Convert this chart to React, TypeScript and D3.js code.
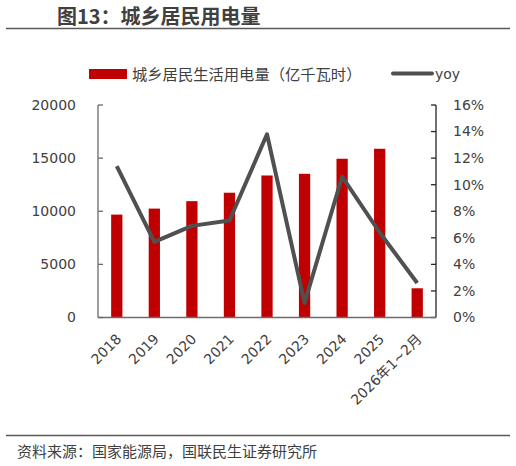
import * as d3 from 'd3';

const years = ['2018', '2019', '2020', '2021', '2022', '2023', '2024', '2025', '2026年1~2月'];
const usage = [9685, 10250, 10949, 11743, 13366, 13524, 14942, 15880, 2750];
const yoy = [11.4, 5.7, 6.9, 7.3, 13.8, 1.1, 10.6, 6.4, 2.6];
const leftTicks = [0, 5000, 10000, 15000, 20000];
const rightTicks = [0, 2, 4, 6, 8, 10, 12, 14, 16];

const W = 516;
const H = 466;
const plot = { left: 98, right: 436, top: 105, bottom: 317.5 };
const FONT = '"Noto Sans CJK SC", "Noto Sans", sans-serif';
const NUM_FONT = '"DejaVu Sans", "Noto Sans CJK SC", sans-serif';
const TEXT = '#404040';

export default function App() {
  const x = d3.scaleBand<string>().domain(years).range([plot.left, plot.right]).paddingInner(0.7).paddingOuter(0.35);
  const yL = d3.scaleLinear().domain([0, 20000]).range([plot.bottom, plot.top]);
  const yR = d3.scaleLinear().domain([0, 16]).range([plot.bottom, plot.top]);
  const cx = (d: string) => (x(d) ?? 0) + x.bandwidth() / 2;

  const line = d3.line<number>()
    .x((_, i) => cx(years[i]))
    .y(d => yR(d));

  return (
    <svg width={W} height={H} style={{ position: 'absolute', left: 0, top: 0, fontFamily: FONT }}>
      <rect width={W} height={H} fill="#fff" />
      <text x={57} y={24} fontSize={20} fontWeight="bold" fill={TEXT}>图13：城乡居民用电量</text>
      <line x1={6} x2={510} y1={28.5} y2={28.5} stroke="#595959" strokeWidth={1.5} />

      {/* legend */}
      <rect x={89} y={69} width={38} height={10} fill="#C00000" />
      <text x={132} y={79.5} fontSize={15.3} fill={TEXT}>城乡居民生活用电量（亿千瓦时）</text>
      <line x1={393} x2={432} y1={73.5} y2={73.5} stroke="#505050" strokeWidth={4} strokeLinecap="round" />
      <text x={435} y={79} fontSize={14} fontFamily={NUM_FONT} fill={TEXT}>yoy</text>

      {/* bars */}
      {usage.map((v, i) => (
        <rect key={years[i]} x={x(years[i])} y={yL(v)} width={x.bandwidth()} height={yL(0) - yL(v)} fill="#C00000" />
      ))}

      {/* left axis */}
      <line x1={plot.left} x2={plot.left} y1={plot.top} y2={plot.bottom} stroke="#6b6b6b" strokeWidth={1.3} />
      {leftTicks.map(t => (
        <g key={t}>
          <line x1={plot.left} x2={plot.left + 5} y1={yL(t)} y2={yL(t)} stroke="#6b6b6b" strokeWidth={1.3} />
          <text x={76} y={yL(t)} dy="0.35em" fontSize={14} fontFamily={NUM_FONT} textAnchor="end" fill={TEXT}>{t}</text>
        </g>
      ))}

      {/* right axis */}
      <line x1={plot.right} x2={plot.right} y1={plot.top} y2={plot.bottom} stroke="#262626" strokeWidth={1.3} />
      {rightTicks.map(t => (
        <g key={t}>
          <line x1={plot.right - 5} x2={plot.right} y1={yR(t)} y2={yR(t)} stroke="#262626" strokeWidth={1.3} />
          <text x={453} y={yR(t)} dy="0.35em" fontSize={14} fontFamily={NUM_FONT} fill={TEXT}>{t}%</text>
        </g>
      ))}

      {/* bottom axis */}
      <line x1={plot.left} x2={plot.right} y1={plot.bottom} y2={plot.bottom} stroke="#6b6b6b" strokeWidth={1.5} />
      {years.map(d => (
        <text key={d} transform={`translate(${cx(d) + 2},${plot.bottom + 19}) rotate(-45)`} fontSize={14} fontFamily={NUM_FONT} textAnchor="end" dy="0.35em" fill={TEXT}>{d}</text>
      ))}

      {/* yoy line */}
      <path d={line(yoy) ?? ''} fill="none" stroke="#505050" strokeWidth={4} strokeLinejoin="round" />

      <line x1={6} x2={510} y1={435.5} y2={435.5} stroke="#595959" strokeWidth={1.5} />
      <text x={17} y={457} fontSize={15} fill={TEXT}>资料来源：国家能源局，国联民生证券研究所</text>
    </svg>
  );
}
